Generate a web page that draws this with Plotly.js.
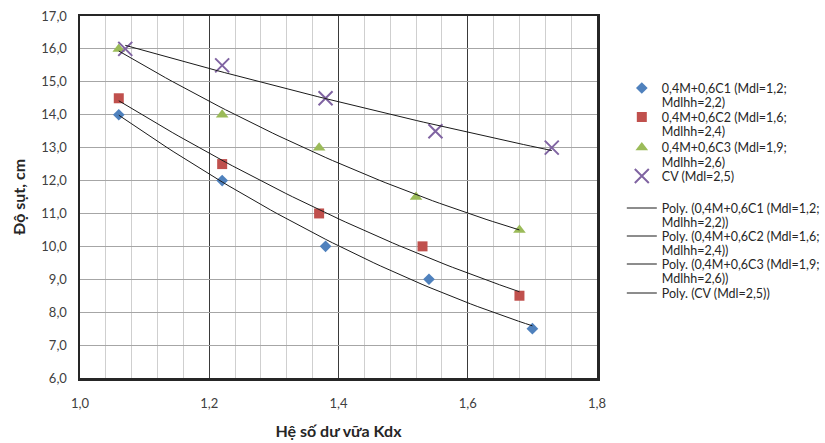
<!DOCTYPE html>
<html>
<head>
<meta charset="utf-8">
<script src="https://cdn.plot.ly/plotly-3.0.1.min.js"></script>
<style>html,body{margin:0;padding:0;background:#fff}#chart{width:825px;height:443px}</style>
</head>
<body>
<div id="chart"></div>
<script>
// Data
const seriesNames = [
  "0,4M+0,6C1 (Mdl=1,2;<br>Mdlhh=2,2)",
  "0,4M+0,6C2 (Mdl=1,6;<br>Mdlhh=2,4)",
  "0,4M+0,6C3 (Mdl=1,9;<br>Mdlhh=2,6)",
  "CV (Mdl=2,5)"
];
const trendNames = [
  "Poly. (0,4M+0,6C1 (Mdl=1,2;<br>Mdlhh=2,2))",
  "Poly. (0,4M+0,6C2 (Mdl=1,6;<br>Mdlhh=2,4))",
  "Poly. (0,4M+0,6C3 (Mdl=1,9;<br>Mdlhh=2,6))",
  "Poly. (CV (Mdl=2,5))"
];
const x_C1 = [1.06, 1.22, 1.38, 1.54, 1.70];
const y_C1 = [14.0, 12.0, 10.0, 9.0, 7.5];
const x_C2 = [1.06, 1.22, 1.37, 1.53, 1.68];
const y_C2 = [14.5, 12.5, 11.0, 10.0, 8.5];
const x_C3 = [1.06, 1.22, 1.37, 1.52, 1.68];
const y_C3 = [16.0, 14.0, 13.0, 11.5, 10.5];
const x_CV = [1.07, 1.22, 1.38, 1.55, 1.73];
const y_CV = [16.0, 15.5, 14.5, 13.5, 13.0];

const xs = [x_C1, x_C2, x_C3, x_CV];
const ys = [y_C1, y_C2, y_C3, y_CV];
const colors = ["#4F81BD", "#C0504D", "#9BBB59", "#8064A2"];
const symbols = ["diamond", "square", "triangle-up", "x-thin"];
const sizes = [9, 10, 11, 14];

// Quadratic least-squares trendline (as Excel "Poly." order 2)
function polyFit2(x, y) {
  let n = x.length, s = [0,0,0,0,0], t = [0,0,0];
  for (let i = 0; i < n; i++) {
    let p = 1;
    for (let k = 0; k < 5; k++) { s[k] += p; if (k < 3) t[k] += p * y[i]; p *= x[i]; }
  }
  const A = [[s[0], s[1], s[2], t[0]], [s[1], s[2], s[3], t[1]], [s[2], s[3], s[4], t[2]]];
  for (let c = 0; c < 3; c++) {
    for (let r = c + 1; r < 3; r++) {
      const f = A[r][c] / A[c][c];
      for (let k = c; k < 4; k++) A[r][k] -= f * A[c][k];
    }
  }
  const b = [0,0,0];
  for (let r = 2; r >= 0; r--) {
    let v = A[r][3];
    for (let k = r + 1; k < 3; k++) v -= A[r][k] * b[k];
    b[r] = v / A[r][r];
  }
  return b;
}

const traces = [];
for (let i = 0; i < 4; i++) {
  traces.push({
    x: xs[i], y: ys[i], type: "scatter", mode: "markers", name: seriesNames[i],
    legendgroup: "pts",
    marker: symbols[i] === "x-thin"
      ? {symbol: "x-thin", size: sizes[i], color: colors[i], line: {color: colors[i], width: 2}}
      : {symbol: symbols[i], size: sizes[i], color: colors[i]}
  });
}
for (let i = 0; i < 4; i++) {
  const b = polyFit2(xs[i], ys[i]);
  const x0 = Math.min(...xs[i]), x1 = Math.max(...xs[i]);
  const tx = [], ty = [];
  for (let k = 0; k <= 60; k++) {
    const xv = x0 + (x1 - x0) * k / 60;
    tx.push(xv); ty.push(b[0] + b[1] * xv + b[2] * xv * xv);
  }
  traces.push({
    x: tx, y: ty, type: "scatter", mode: "lines", name: trendNames[i],
    legendgroup: "trend", line: {color: "#1a1a1a", width: 1}, hoverinfo: "skip"
  });
}

const font = "Lato, 'Open Sans', sans-serif";
const layout = {
  width: 825, height: 443,
  margin: {l: 80, r: 228, t: 16, b: 65, autoexpand: false},
  paper_bgcolor: "#fff", plot_bgcolor: "#fff",
  separators: ", ",
  font: {family: font, size: 12, color: "#404040"},
  showlegend: true,
  legend: {
    x: 1.048, xanchor: "left", y: 0.842, yanchor: "top",
    traceorder: "grouped", tracegroupgap: 8, valign: "top",
    font: {family: font, size: 12.5, color: "#262626"},
    bgcolor: "rgba(0,0,0,0)", itemwidth: 30
  },
  xaxis: {
    range: [1.0, 1.8], dtick: 0.2, tick0: 1.0, tickformat: ".1f",
    showgrid: true, gridcolor: "#3a3a3a", gridwidth: 1,
    minor: {dtick: 0.04, tick0: 1.0, showgrid: true, gridcolor: "#cfcfcf", gridwidth: 1},
    showline: true, mirror: true, linecolor: "#262626", linewidth: 2.5,
    ticks: "outside", ticklen: 12, tickcolor: "rgba(0,0,0,0)",
    zeroline: false, tickfont: {family: font, size: 13, color: "#404040"},
    title: {text: "Hệ số dư vữa Kdx", font: {family: font, size: 16, color: "#262626", weight: "bold"}, standoff: 16}
  },
  yaxis: {
    range: [6, 17], dtick: 1, tick0: 6, tickformat: ".1f",
    showgrid: true, gridcolor: "#a6a6a6", gridwidth: 1,
    showline: true, mirror: true, linecolor: "#262626", linewidth: 2.5,
    ticks: "outside", ticklen: 8, tickcolor: "rgba(0,0,0,0)",
    zeroline: false, tickfont: {family: font, size: 13, color: "#404040"},
    title: {text: "Độ sụt, cm", font: {family: font, size: 16, color: "#262626", weight: "bold"}, standoff: 12}
  }
};

// Excel-like legend rows: first entry centre and gaps between successive entries, px
const legendFirstY = 88;
const legendRowGaps = [29, 29, 30, 32, 28, 28, 29];

function readTranslate(el) {
  const m = /translate\(\s*([-\d.e]+)(?:[ ,]+([-\d.e]+))?\s*\)/.exec((el && el.getAttribute && el.getAttribute("transform")) || "");
  return m ? [parseFloat(m[1]), parseFloat(m[2] || 0)] : [0, 0];
}

function tidyLegend(gd) {
  const items = Array.from(gd.querySelectorAll(".legend g.traces"));
  const top = gd.getBoundingClientRect().top;
  let desired = legendFirstY;
  items.forEach(function (g, i) {
    if (i > 0) desired += legendRowGaps[i - 1] || 29;
    const sym = g.querySelector(".legendpoints path.point") || g.querySelector(".legendlines path") || g.querySelector(".legendpoints") || g.querySelector(".legendlines");
    if (!sym) return;
    const r = sym.getBoundingClientRect();
    const cy = (r.top + r.bottom) / 2 - top;
    const own = readTranslate(g);
    g.setAttribute("transform", "translate(" + own[0] + "," + (own[1] + desired - cy) + ")");
    g.querySelectorAll("tspan.line").forEach(function (t, k) {
      if (k > 0) t.setAttribute("dy", "1.16em");
    });
  });
}

Plotly.newPlot("chart", traces, layout, {displayModeBar: false, staticPlot: true}).then(function (gd) {
  tidyLegend(gd);
});
</script>
</body>
</html>
